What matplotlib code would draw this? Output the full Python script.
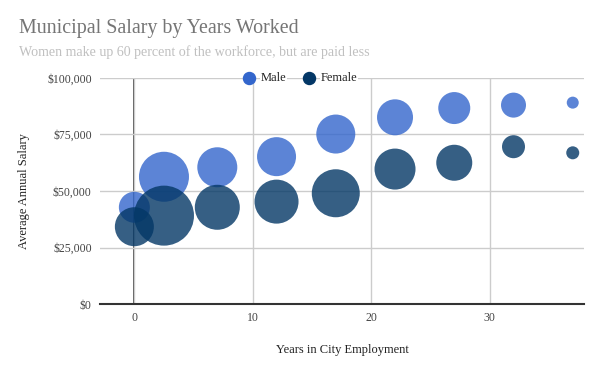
import numpy as np
import matplotlib.pyplot as plt
from matplotlib.lines import Line2D
from matplotlib.ticker import FuncFormatter

plt.rcParams['font.family'] = ['Liberation Serif', 'DejaVu Serif']

# data
years = [0, 2.5, 7, 12, 17, 22, 27, 32, 37]
male_salary = [42800, 56300, 60500, 65200, 75200, 82600, 86700, 88000, 89100]
female_salary = [34200, 39100, 42800, 45300, 49000, 59700, 62500, 69600, 66900]
# relative bubble size (head count scale)
male_size = [31, 50, 40, 39, 39, 36, 32, 25, 12]
female_size = [39, 60, 45, 44, 48, 41, 36, 23, 13]

series_names = ["Male", "Female"]
colors = ["#3366cc", "#033766"]

DPI = 100
fig = plt.figure(figsize=(6.0, 3.71), dpi=DPI)
ax = fig.add_axes([100 / 600, 1 - 304 / 371, 484 / 600, 226 / 371])

px2pt = 72 / DPI


def to_area(sizes):
    return (np.array(sizes) * px2pt) ** 2


ax.scatter(years, male_salary, s=to_area(male_size), color=colors[0], alpha=0.8,
           linewidths=0, zorder=3)
ax.scatter(years, female_salary, s=to_area(female_size), color=colors[1], alpha=0.8,
           linewidths=0, zorder=4)

ax.set_xlim(-2.9, 37.95)
ax.set_ylim(0, 100000)
ax.set_xticks([0, 10, 20, 30])
ax.set_yticks([0, 25000, 50000, 75000, 100000])
ax.yaxis.set_major_formatter(FuncFormatter(lambda v, p: f"${v:,.0f}"))

ax.grid(True, color="#cccccc", lw=1, zorder=0)
ax.axvline(0, color="#333333", lw=1.2, zorder=1)
ax.axhline(0, color="#333333", lw=1.5, zorder=5, clip_on=False)
for s in ax.spines.values():
    s.set_visible(False)
ax.tick_params(length=0, labelsize=8.5, labelcolor="#444444", pad=6)

ax.set_xlabel("Years in City Employment", fontsize=9, color="#222222", labelpad=14)
ax.set_ylabel("Average Annual Salary", fontsize=9, color="#222222", labelpad=12)

fig.text(19 / 600, 1 - 28 / 371, "Municipal Salary by Years Worked", fontsize=14.4,
         color="#757575", va="center", ha="left")
fig.text(19 / 600, 1 - 52 / 371, "Women make up 60 percent of the workforce, but are paid less",
         fontsize=10.1, color="#c0c0c0", va="center", ha="left")

# legend on the top gridline
leg_y = 1 - 78 / 371
for name, col, xdot in zip(series_names, colors, [249, 309]):
    fig.add_artist(Line2D([xdot / 600], [leg_y], transform=fig.transFigure, marker="o",
                          markersize=12 * px2pt, color=col, lw=0, zorder=10))
    fig.text((xdot + 12) / 600, leg_y, name, fontsize=9, color="#222222", va="center",
             ha="left", zorder=10,
             bbox=dict(facecolor="white", edgecolor="none", pad=0.5))

fig.savefig("out.png", dpi=DPI)
